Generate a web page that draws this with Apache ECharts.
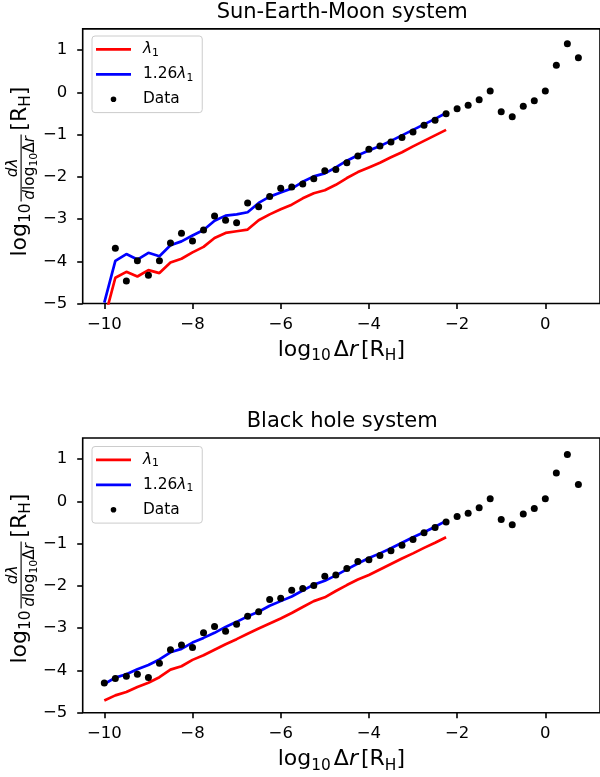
<!DOCTYPE html>
<html>
<head>
<meta charset="utf-8">
<script src="https://cdn.jsdelivr.net/npm/echarts@6.0.0/dist/echarts.min.js"></script>
<style>
html,body{margin:0;padding:0;background:#ffffff;}
#chart{width:600px;height:777px;}
</style>
</head>
<body>
<div id="chart"></div>
<script>
// ---------------- data ----------------
const xData = [-10, -9.75, -9.5, -9.25, -9, -8.75, -8.5, -8.25, -8, -7.75,
  -7.5, -7.25, -7, -6.75, -6.5, -6.25, -6, -5.75, -5.5, -5.25,
  -5, -4.75, -4.5, -4.25, -4, -3.75, -3.5, -3.25, -3, -2.75,
  -2.5, -2.25, -2, -1.75, -1.5, -1.25, -1, -0.75, -0.5, -0.25,
  0, 0.25, 0.5, 0.75];
const xLine = [-10, -9.75, -9.5, -9.25, -9, -8.75, -8.5, -8.25, -8, -7.75,
  -7.5, -7.25, -7, -6.75, -6.5, -6.25, -6, -5.75, -5.5, -5.25,
  -5, -4.75, -4.5, -4.25, -4, -3.75, -3.5, -3.25, -3, -2.75,
  -2.5, -2.25];

// Sun-Earth-Moon system
const semLambda1 = [-5.38, -4.39, -4.25, -4.36, -4.21, -4.28, -4.03, -3.94, -3.79, -3.66,
  -3.45, -3.33, -3.29, -3.25, -3.03, -2.89, -2.77, -2.66, -2.51, -2.39,
  -2.32, -2.19, -2.03, -1.89, -1.78, -1.67, -1.54, -1.42, -1.28, -1.15,
  -1.02, -0.89];
const semLambda126 = [-4.98, -3.99, -3.83, -3.96, -3.80, -3.88, -3.62, -3.53, -3.39, -3.26,
  -3.04, -2.92, -2.89, -2.84, -2.62, -2.47, -2.37, -2.28, -2.12, -1.99,
  -1.92, -1.78, -1.62, -1.49, -1.38, -1.27, -1.15, -1.02, -0.89, -0.76,
  -0.63, -0.49];
const semData = [null, -3.69, -4.47, -3.99, -4.33, -3.99, -3.57, -3.34, -3.52, -3.26,
  -2.93, -3.03, -3.09, -2.62, -2.71, -2.47, -2.27, -2.24, -2.17, -2.05,
  -1.86, -1.83, -1.67, -1.51, -1.35, -1.27, -1.18, -1.07, -0.94, -0.78,
  -0.66, -0.51, -0.39, -0.31, -0.18, 0.03, -0.46, -0.58, -0.33, -0.20,
  0.03, 0.64, 1.15, 0.82];

// Black hole system
const bhLambda1 = [-4.71, -4.59, -4.51, -4.39, -4.29, -4.16, -3.98, -3.90, -3.75, -3.64,
  -3.51, -3.38, -3.26, -3.13, -3.01, -2.89, -2.77, -2.64, -2.50, -2.36,
  -2.27, -2.12, -1.98, -1.85, -1.74, -1.61, -1.48, -1.35, -1.23, -1.10,
  -0.98, -0.85];
const bhLambda126 = [-4.32, -4.17, -4.09, -3.97, -3.87, -3.74, -3.57, -3.49, -3.34, -3.23,
  -3.11, -2.97, -2.85, -2.72, -2.61, -2.47, -2.36, -2.25, -2.11, -1.97,
  -1.88, -1.75, -1.61, -1.47, -1.34, -1.23, -1.11, -0.98, -0.85, -0.73,
  -0.60, -0.46];
const bhData = [-4.30, -4.19, -4.14, -4.09, -4.17, -3.83, -3.51, -3.40, -3.46, -3.11,
  -2.96, -3.07, -2.91, -2.72, -2.61, -2.32, -2.29, -2.10, -2.06, -1.99,
  -1.77, -1.74, -1.59, -1.42, -1.38, -1.28, -1.17, -1.04, -0.90, -0.74,
  -0.62, -0.49, -0.36, -0.28, -0.15, 0.06, -0.43, -0.55, -0.30, -0.17,
  0.06, 0.67, 1.11, 0.40];

const xTicks = [-10, -8, -6, -4, -2, 0];
const yTicks = [-5, -4, -3, -2, -1, 0, 1];
const titles = ['Sun-Earth-Moon system', 'Black hole system'];

// ---------------- chart ----------------
const FONT = 'DejaVu Sans';
const fmt = v => String(v).replace('-', '\u2212');
const pair = (xs, ys) => xs.map((x, i) => [x, ys[i]]);

const lineIcon = 'path://M0,0L0.01,0L0,0.01Z M42,18L41.99,18L42,17.99Z M0,7.65L35,7.65L35,10.35L0,10.35Z';
const dotIcon = 'path://M0,0L0.01,0L0,0.01Z M42,18L41.99,18L42,17.99Z M14.7,9A2.8,2.8,0,1,0,20.3,9A2.8,2.8,0,1,0,14.7,9Z';

const legRich = {
  n: {fontFamily: FONT, fontSize: 15.4, lineHeight: 18, color: '#000', verticalAlign: 'middle'},
  i: {fontFamily: FONT, fontSize: 15.4, lineHeight: 18, color: '#000', fontStyle: 'italic', verticalAlign: 'middle'},
  s: {fontFamily: FONT, fontSize: 10.8, lineHeight: 11.2, color: '#000', verticalAlign: 'bottom'}
};
const legendText = {
  lambda1: '{i|\u03bb}{s|1}',
  lambda126: '{n|1.26}{i|\u03bb}{s|1}',
  data: '{n|Data}'
};

function makeLegend(top) {
  return {
    orient: 'vertical', left: 92, top: top,
    itemWidth: 42, itemHeight: 18, itemGap: 7,
    padding: [4.3, 9, 4.3, 4],
    backgroundColor: 'rgba(255,255,255,0.8)', borderColor: '#cccccc', borderWidth: 1, borderRadius: 3,
    selectedMode: false,
    itemStyle: {borderWidth: 0, opacity: 1},
    data: [
      {name: 'lambda1', icon: lineIcon},
      {name: 'lambda126', icon: lineIcon},
      {name: 'data', icon: dotIcon}
    ],
    formatter: n => legendText[n],
    textStyle: {fontFamily: FONT, fontSize: 15.4, color: '#000', rich: legRich}
  };
}

const nameRich = {
  n: {fontFamily: FONT, fontSize: 22, lineHeight: 28, color: '#000', verticalAlign: 'middle'},
  g: {fontFamily: FONT, fontSize: 22, lineHeight: 28, color: '#000', verticalAlign: 'middle', padding: [0, 0, 0, 3]},
  i: {fontFamily: FONT, fontSize: 22, lineHeight: 28, color: '#000', fontStyle: 'italic', verticalAlign: 'middle'},
  s: {fontFamily: FONT, fontSize: 15.4, lineHeight: 18, color: '#000', verticalAlign: 'bottom'}
};

function makeX(gi) {
  return {
    gridIndex: gi, type: 'value', min: -10.49, max: 1.24,
    axisLine: {show: false, onZero: false},
    axisTick: {show: true, inside: false, length: 5.5, lineStyle: {color: '#000', width: 1.6}, customValues: xTicks},
    axisLabel: {customValues: xTicks, formatter: fmt, margin: 12.5, fontSize: 16.5, color: '#000', fontFamily: FONT},
    splitLine: {show: false},
    name: '{n|log}{s|10}{g|\u0394}{i|r}{g|[R}{s|H}{n|]}',
    nameLocation: 'middle', nameGap: 32.4,
    nameTextStyle: {fontFamily: FONT, fontSize: 22, color: '#000', rich: nameRich}
  };
}
function makeY(gi) {
  return {
    gridIndex: gi, type: 'value', min: -5, max: 1.5,
    axisLine: {show: false, onZero: false},
    axisTick: {show: true, inside: false, length: 5.5, lineStyle: {color: '#000', width: 1.6}, customValues: yTicks},
    axisLabel: {customValues: yTicks, formatter: fmt, margin: 15.5, fontSize: 16.5, color: '#000', fontFamily: FONT},
    splitLine: {show: false}
  };
}

function makeSeries(gi, l1, l126, d) {
  return [
    {name: 'lambda1', type: 'line', xAxisIndex: gi, yAxisIndex: gi, data: pair(xLine, l1),
     showSymbol: false, symbol: 'none', lineStyle: {color: '#ff0000', width: 2.7}, itemStyle: {color: '#ff0000'},
     z: 2, clip: true},
    {name: 'lambda126', type: 'line', xAxisIndex: gi, yAxisIndex: gi, data: pair(xLine, l126),
     showSymbol: false, symbol: 'none', lineStyle: {color: '#0000ff', width: 2.7}, itemStyle: {color: '#0000ff'},
     z: 3, clip: true},
    {name: 'data', type: 'scatter', xAxisIndex: gi, yAxisIndex: gi, data: pair(xData, d).filter(p => p[1] !== null),
     symbol: 'circle', symbolSize: 7, itemStyle: {color: '#000000', opacity: 1}, z: 4, clip: true}
  ];
}

// y-axis label (fraction) as rotated graphic group
const yMain = {
  n: {fontFamily: FONT, fontSize: 22, lineHeight: 28, fill: '#000', verticalAlign: 'middle'},
  s: {fontFamily: FONT, fontSize: 15.4, lineHeight: 18, fill: '#000', verticalAlign: 'bottom'}
};
const ySmall = {
  n: {fontFamily: FONT, fontSize: 15.4, lineHeight: 20, fill: '#000', verticalAlign: 'middle'},
  i: {fontFamily: FONT, fontSize: 15.4, lineHeight: 20, fill: '#000', fontStyle: 'italic', verticalAlign: 'middle'},
  s: {fontFamily: FONT, fontSize: 10.8, lineHeight: 13.2, fill: '#000', verticalAlign: 'bottom'}
};
function yLabel(cx, cy) {
  const xf = 4.6;
  return {
    type: 'group', x: cx, y: cy, rotation: Math.PI / 2, silent: true,
    children: [
      {type: 'text', style: {x: -84, y: -7.6, text: '{n|log}{s|10}', align: 'left', verticalAlign: 'middle', rich: yMain}},
      {type: 'line', shape: {x1: xf - 33.5, y1: -6.4, x2: xf + 33.5, y2: -6.4}, style: {stroke: '#000', lineWidth: 1.1}},
      {type: 'text', style: {x: xf, y: -14.7, text: '{i|d\u03bb}', align: 'center', verticalAlign: 'middle', rich: ySmall}},
      {type: 'text', style: {x: xf, y: 2.5, text: '{i|d}{n|log}{s|10}{n|\u0394}{i|r}', align: 'center', verticalAlign: 'middle', rich: ySmall}},
      {type: 'text', style: {x: xf + 37.2, y: -7.6, text: '{n|[R}{s|H}{n|]}', align: 'left', verticalAlign: 'middle', rich: yMain}}
    ]
  };
}

const titleStyle = {fontFamily: FONT, fontSize: 21, fontWeight: 'normal', color: '#000'};

const option = {
  animation: false,
  backgroundColor: '#ffffff',
  title: [
    {text: titles[0], left: 342.2, top: 1.6, textAlign: 'center', padding: 0, textStyle: titleStyle},
    {text: titles[1], left: 342.2, top: 410.6, textAlign: 'center', padding: 0, textStyle: titleStyle}
  ],
  legend: [makeLegend(36), makeLegend(446.5)],
  grid: [
    {left: 82.7, top: 28.9, width: 518.9, height: 274.6, show: true, borderColor: '#000', borderWidth: 1.6, backgroundColor: 'transparent', containLabel: false},
    {left: 82.7, top: 438, width: 518.9, height: 274.7, show: true, borderColor: '#000', borderWidth: 1.6, backgroundColor: 'transparent', containLabel: false}
  ],
  xAxis: [makeX(0), makeX(1)],
  yAxis: [makeY(0), makeY(1)],
  series: [].concat(
    makeSeries(0, semLambda1, semLambda126, semData),
    makeSeries(1, bhLambda1, bhLambda126, bhData)
  ),
  graphic: [yLabel(27.5, 172.5), yLabel(27.5, 579.5)]
};

const chart = echarts.init(document.getElementById('chart'), null, {renderer: 'canvas'});
chart.setOption(option);
</script>
</body>
</html>
